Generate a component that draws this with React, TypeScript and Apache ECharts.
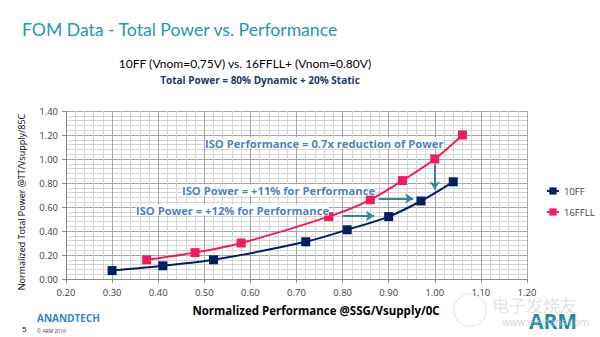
import React, { useEffect, useRef } from "react";
import * as echarts from "echarts";

const xTicks = [0.2, 1.2];
const yTicks = [0, 1.4];
const seriesNames = ["10FF", "16FFLL"];
const perf10FF = [0.30, 0.41, 0.52, 0.72, 0.81, 0.90, 0.97, 1.04];
const power10FF = [0.07, 0.11, 0.16, 0.31, 0.41, 0.52, 0.65, 0.81];
const perf16FFLL = [0.375, 0.48, 0.58, 0.77, 0.86, 0.93, 1.00, 1.06];
const power16FFLL = [0.16, 0.22, 0.30, 0.52, 0.66, 0.82, 1.00, 1.20];
// arrows: [x1, y1, x2, y2] in data units
const arrows = [
  [1.0, 0.955, 1.0, 0.745],
  [0.878, 0.67, 0.953, 0.67],
  [0.80, 0.526, 0.868, 0.526],
];

const NAVY = "#002060";
const RED = "#ee1d5b";
const TEAL = "#31869d";
const NOTE = "#4f81bd";
const FONT = "'Open Sans', 'Noto Sans', sans-serif";

export default function App() {
  const ref = useRef<HTMLDivElement>(null);
  useEffect(() => {
    document.body.style.margin = "0";
    const chart = echarts.init(ref.current!, null, { renderer: "svg" });
    const zip = (xs: number[], ys: number[]) => xs.map((x, i) => [x, ys[i]]);
    const note = (text: string, x: number, y: number) => ({
      type: "text",
      x,
      y,
      z: 5,
      style: {
        text,
        fill: NOTE,
        font: `bold 11.2px ${FONT}`,
        verticalAlign: "middle",
        backgroundColor: "#fff",
      },
    });
    chart.setOption({
      animation: false,
      backgroundColor: "#fff",
      textStyle: { fontFamily: FONT },
      grid: { left: 66, right: 73, top: 111, bottom: 58 },
      xAxis: {
        type: "value",
        min: xTicks[0],
        max: xTicks[1],
        interval: 0.1,
        axisLine: { show: true, lineStyle: { color: "#8c8c8c" } },
        axisTick: { show: true, length: 4, lineStyle: { color: "#8c8c8c" } },
        axisLabel: {
          formatter: (v: number) => v.toFixed(2),
          fontSize: 9.5,
          color: "#404040",
          margin: 8,
        },
        splitLine: { show: true, lineStyle: { color: "#a6a6a6" } },
        minorTick: { show: false, splitNumber: 5 },
        minorSplitLine: { show: true, lineStyle: { color: "#d6d6d6" } },
      },
      yAxis: {
        type: "value",
        min: yTicks[0],
        max: yTicks[1],
        interval: 0.2,
        axisLine: { show: true, lineStyle: { color: "#8c8c8c" } },
        axisTick: { show: true, length: 4, lineStyle: { color: "#8c8c8c" } },
        axisLabel: {
          formatter: (v: number) => v.toFixed(2),
          fontSize: 9.5,
          color: "#404040",
          margin: 8,
        },
        splitLine: { show: true, lineStyle: { color: "#a6a6a6" } },
        minorTick: { show: false, splitNumber: 5 },
        minorSplitLine: { show: true, lineStyle: { color: "#d6d6d6" } },
      },
      legend: {
        orient: "vertical",
        left: 541,
        top: 181,
        itemWidth: 12,
        itemHeight: 9,
        itemGap: 11,
        textStyle: { fontSize: 9.5, color: "#404040", fontFamily: FONT },
        data: seriesNames,
      },
      series: [
        {
          name: seriesNames[0],
          type: "line",
          data: zip(perf10FF, power10FF),
          smooth: 0.3,
          symbol: "rect",
          symbolSize: 9,
          lineStyle: { color: NAVY, width: 2 },
          itemStyle: { color: NAVY },
          z: 3,
          markLine: {
            silent: true,
            symbol: ["none", "arrow"],
            symbolSize: 8,
            label: { show: false },
            lineStyle: { color: TEAL, width: 2, type: "solid" },
            data: arrows.map((a) => [
              { coord: [a[0], a[1]] },
              { coord: [a[2], a[3]] },
            ]),
          },
        },
        {
          name: seriesNames[1],
          type: "line",
          data: zip(perf16FFLL, power16FFLL),
          smooth: 0.3,
          symbol: "rect",
          symbolSize: 9,
          lineStyle: { color: RED, width: 2 },
          itemStyle: { color: RED },
          z: 3,
        },
      ],
      graphic: [
        {
          type: "text",
          x: 22,
          y: 29,
          style: {
            text: "FOM Data - Total Power vs. Performance",
            fill: "#2396b4",
            font: `17.6px Lato, ${FONT}`,
            verticalAlign: "middle",
          },
        },
        {
          type: "text",
          x: 245,
          y: 63,
          style: {
            text: "10FF (Vnom=0,75V) vs. 16FFLL+ (Vnom=0.80V)",
            fill: "#000",
            font: `12px Lato, ${FONT}`,
            align: "center",
            verticalAlign: "middle",
          },
        },
        {
          type: "text",
          x: 260,
          y: 80,
          style: {
            text: "Total Power = 80% Dynamic + 20% Static",
            fill: "#1f3864",
            font: `bold 10px ${FONT}`,
            align: "center",
            verticalAlign: "middle",
          },
        },
        {
          type: "text",
          x: 21,
          y: 202,
          rotation: Math.PI / 2,
          style: {
            text: "Normalized Total Power @TT/Vsupply/85C",
            fill: "#000",
            font: `9px ${FONT}`,
            align: "center",
            verticalAlign: "middle",
          },
        },
        {
          type: "text",
          x: 316,
          y: 310,
          style: {
            text: "Normalized Performance @SSG/Vsupply/0C",
            fill: "#000",
            font: `bold 11.5px ${FONT}`,
            align: "center",
            verticalAlign: "middle",
          },
        },
        note("ISO Performance = 0.7x reduction of Power", 205, 143),
        note("ISO Power = +11% for Performance", 182, 190),
        note("ISO Power = +12% for Performance", 136, 210),
        {
          type: "text",
          x: 22,
          y: 328,
          style: { text: "5", fill: "#000", font: `8px ${FONT}`, verticalAlign: "middle" },
        },
        {
          type: "text",
          x: 37,
          y: 318,
          style: {
            text: "ANANDTECH",
            fill: "#2f86c6",
            font: `bold 10px ${FONT}`,
            verticalAlign: "middle",
          },
        },
        {
          type: "text",
          x: 37,
          y: 331,
          style: { text: "© ARM 2016", fill: "#404040", font: `5px ${FONT}`, verticalAlign: "middle" },
        },
        {
          type: "text",
          x: 492,
          y: 304,
          style: {
            text: "电子发烧友",
            fill: "#e4e4e4",
            font: `17px 'Noto Sans CJK SC'`,
            verticalAlign: "middle",
          },
        },
        {
          type: "text",
          x: 529,
          y: 321,
          style: {
            text: "ARM",
            fill: "#1d8ba5",
            font: `bold 21px ${FONT}`,
            verticalAlign: "middle",
          },
        },
        {
          type: "text",
          x: 502,
          y: 322,
          style: {
            text: "www.elecfans.com",
            fill: "rgba(200,200,200,0.8)",
            font: `10px ${FONT}`,
            verticalAlign: "middle",
          },
        },
        {
          type: "circle",
          shape: { cx: 470, cy: 310, r: 16 },
          style: { fill: "none", stroke: "#ececec", lineWidth: 1.5 },
        },
      ],
    });
    return () => chart.dispose();
  }, []);
  return (
    <div
      ref={ref}
      style={{ position: "fixed", left: 0, top: 0, width: 600, height: 337 }}
    />
  );
}
